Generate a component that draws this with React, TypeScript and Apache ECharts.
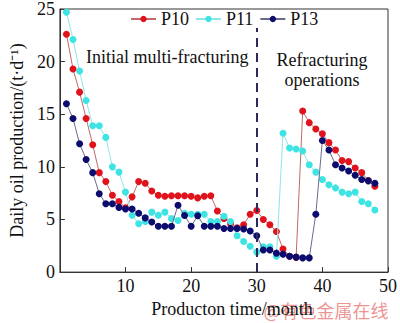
import React, { useEffect, useRef } from "react";
import * as echarts from "echarts";

const months = [
  1, 2, 3, 4, 5, 6, 7, 8, 9, 10, 11, 12, 13, 14, 15, 16, 17, 18, 19, 20, 21, 22, 23, 24,
  25, 26, 27, 28, 29, 30, 31, 32, 33, 34, 35, 36, 37, 38, 39, 40, 41, 42, 43, 44, 45, 46, 47, 48,
];

const p10 = [
  22.6, 19.3, 17.1, 14.6, 12.1, 9.45, 8.6, 7.3, 6.7, 6.1, 7.15, 8.6, 8.45, 7.7, 7.3, 7.2,
  7.25, 7.25, 7.25, 7.2, 7.05, 7.2, 7.25, 5.8, 5.1, 4.6, 4.2, 4.5, 5.5, 5.85, 5.0, 4.5,
  3.85, 2.2, 1.5, 1.4, 15.3, 14.2, 13.6, 13.15, 12.3, 11.6, 10.6, 10.5, 9.9, 9.45, 8.7, 8.15,
];

const p11 = [
  24.7, 22.1, 19.1, 16.3, 13.9, 13.9, 12.8, 10.0, 9.5, 7.6, 5.4, 4.6, 4.8, 5.7, 5.4, 5.7,
  5.1, 4.9, 5.6, 5.5, 5.5, 5.5, 4.8, 4.8, 5.3, 4.8, 3.45, 2.9, 2.45, 1.9, 2.4, 2.4,
  1.5, 13.2, 11.8, 11.7, 11.5, 10.2, 9.5, 8.8, 8.3, 8.0, 7.6, 7.45, 7.6, 6.7, 6.5, 5.9,
];

const p13 = [
  16.0, 14.6, 12.2, 10.7, 9.45, 7.45, 6.5, 6.5, 6.15, 6.0, 6.0, 5.6, 5.15, 4.76, 4.36, 4.36,
  4.36, 6.35, 5.38, 4.36, 5.36, 4.36, 4.36, 4.36, 4.15, 4.15, 4.15, 4.1, 3.9, 3.45, 2.1, 2.1,
  1.8, 1.7, 1.5, 1.42, 1.35, 1.35, 5.5, 12.5, 11.6, 10.2, 9.9, 9.6, 9.2, 8.8, 8.67, 8.45,
];

const seriesNames = ["P10", "P11", "P13"];
const seriesValues = [p10, p11, p13];
const markerColors = ["#e0121c", "#3ee4e4", "#0c0c6e"];
const lineColors = ["#c06a6a", "#8ee6e6", "#6a6a8c"];

const xTicks = { min: 0, max: 50, interval: 10 };
const yTicks = { min: 0, max: 25, interval: 5 };
const refracStart = 30;
const dividerTop = 23.2;

const FONT = "'Liberation Serif', 'Times New Roman', serif";

export default function App() {
  const ref = useRef<HTMLDivElement>(null);

  useEffect(() => {
    document.body.style.margin = "0";
    if (!ref.current) return;
    const chart = echarts.init(ref.current, undefined, { renderer: "svg" });

    const series: any[] = seriesNames.map((name, si) => ({
      name,
      type: "line",
      data: months.map((m, i) => [m, seriesValues[si][i]]),
      symbol: "circle",
      symbolSize: 7,
      showSymbol: true,
      itemStyle: { color: markerColors[si] },
      lineStyle: { color: lineColors[si], width: 1 },
      z: 2 + si,
    }));

    series[2].markLine = {
      silent: true,
      symbol: ["none", "none"],
      label: { show: false },
      lineStyle: { color: "#2a2a5c", width: 2, type: [9, 6] },
      data: [[{ coord: [refracStart, 0] }, { coord: [refracStart, dividerTop] }]],
    };

    chart.setOption({
      animation: false,
      backgroundColor: "#ffffff",
      grid: {
        left: 49,
        right: 6,
        top: 3,
        bottom: 45,
        show: true,
        borderColor: "#333",
        borderWidth: 1,
        backgroundColor: "transparent",
      },
      legend: {
        left: 125,
        top: 5,
        itemGap: 6,
        itemWidth: 25,
        itemHeight: 8,
        data: seriesNames,
        textStyle: { fontFamily: FONT, fontSize: 18, color: "#111" },
      },
      xAxis: {
        type: "value",
        min: xTicks.min,
        max: xTicks.max,
        interval: xTicks.interval,
        name: "Producton time/month",
        nameLocation: "middle",
        nameGap: 26,
        nameTextStyle: {
          fontFamily: FONT,
          fontSize: 18,
          color: "#111",
          padding: [0, 0, 0, 16],
        },
        axisLine: { lineStyle: { color: "#333", width: 1 } },
        axisTick: { inside: true, length: 5, lineStyle: { color: "#333" } },
        axisLabel: {
          showMinLabel: false,
          fontFamily: FONT,
          fontSize: 18,
          color: "#111",
          margin: 5,
        },
        splitLine: { show: false },
      },
      yAxis: {
        type: "value",
        min: yTicks.min,
        max: yTicks.max,
        interval: yTicks.interval,
        name: "Daily oil production/(t·d⁻¹)",
        nameLocation: "middle",
        nameGap: 33,
        nameRotate: 90,
        nameTextStyle: { fontFamily: FONT, fontSize: 18, color: "#111" },
        axisLine: { show: true, lineStyle: { color: "#333", width: 1 } },
        axisTick: { show: true, inside: true, length: 5, lineStyle: { color: "#333" } },
        axisLabel: {
          fontFamily: FONT,
          fontSize: 18,
          color: "#111",
          margin: 5,
        },
        splitLine: { show: false },
      },
      graphic: [
        {
          type: "text",
          left: 86,
          top: 48,
          style: {
            text: "Initial multi-fracturing",
            fontFamily: FONT,
            fontSize: 18,
            fill: "#111",
          },
        },
        {
          type: "text",
          x: 322,
          y: 51,
          style: {
            text: "Refracturing",
            fontFamily: FONT,
            fontSize: 18,
            lineHeight: 17,
            fill: "#111",
            align: "center",
          },
        },
        {
          type: "text",
          x: 322,
          y: 71,
          style: {
            text: "operations",
            fontFamily: FONT,
            fontSize: 18,
            lineHeight: 17,
            fill: "#111",
            align: "center",
          },
        },
        {
          type: "text",
          x: 326,
          y: 302,
          style: {
            text: "@有色金属在线",
            fontFamily: "'Noto Sans CJK SC', sans-serif",
            fontSize: 18,
            lineHeight: 16,
            fill: "rgba(228, 100, 100, 0.7)",
            align: "center",
          },
        },
      ],
      series,
    });

    return () => chart.dispose();
  }, []);

  return <div ref={ref} style={{ width: 400, height: 323 }} />;
}
